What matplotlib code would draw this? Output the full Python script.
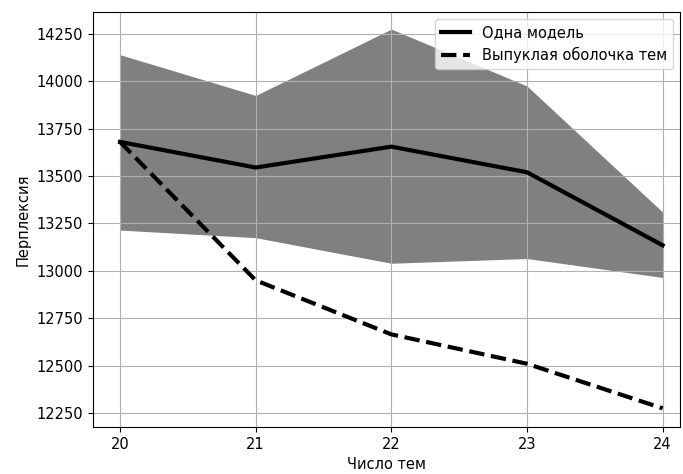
import matplotlib.pyplot as plt

# число тем
topics = [20, 21, 22, 23, 24]

# перплексия одной модели и разброс
single_model = [13680, 13545, 13655, 13520, 13135]
band_upper = [14140, 13925, 14275, 13975, 13310]
band_lower = [13215, 13175, 13040, 13065, 12965]

# выпуклая оболочка тем
convex_hull = [13680, 12950, 12665, 12510, 12275]

fig = plt.figure(figsize=(6.83, 4.74), dpi=100)
ax = fig.add_axes([0.136, 0.099, 0.86, 0.876])

ax.fill_between(topics, band_lower, band_upper, color='gray', linewidth=0)
ax.plot(topics, single_model, color='black', linewidth=3, label='Одна модель')
ax.plot(topics, convex_hull, color='black', linewidth=3, linestyle='--',
        label='Выпуклая оболочка тем')

ax.set_xlim(19.8, 24.13)
ax.set_ylim(12176, 14366)
ax.set_xticks(topics)
ax.set_yticks([12250, 12500, 12750, 13000, 13250, 13500, 13750, 14000, 14250])
ax.tick_params(labelsize=10.5)
ax.set_xlabel('Число тем', fontsize=10.5)
ax.set_ylabel('Перплексия', fontsize=10.5)
ax.grid(True)
ax.legend(loc='upper right', fontsize=10.5)

plt.savefig('out.png')
